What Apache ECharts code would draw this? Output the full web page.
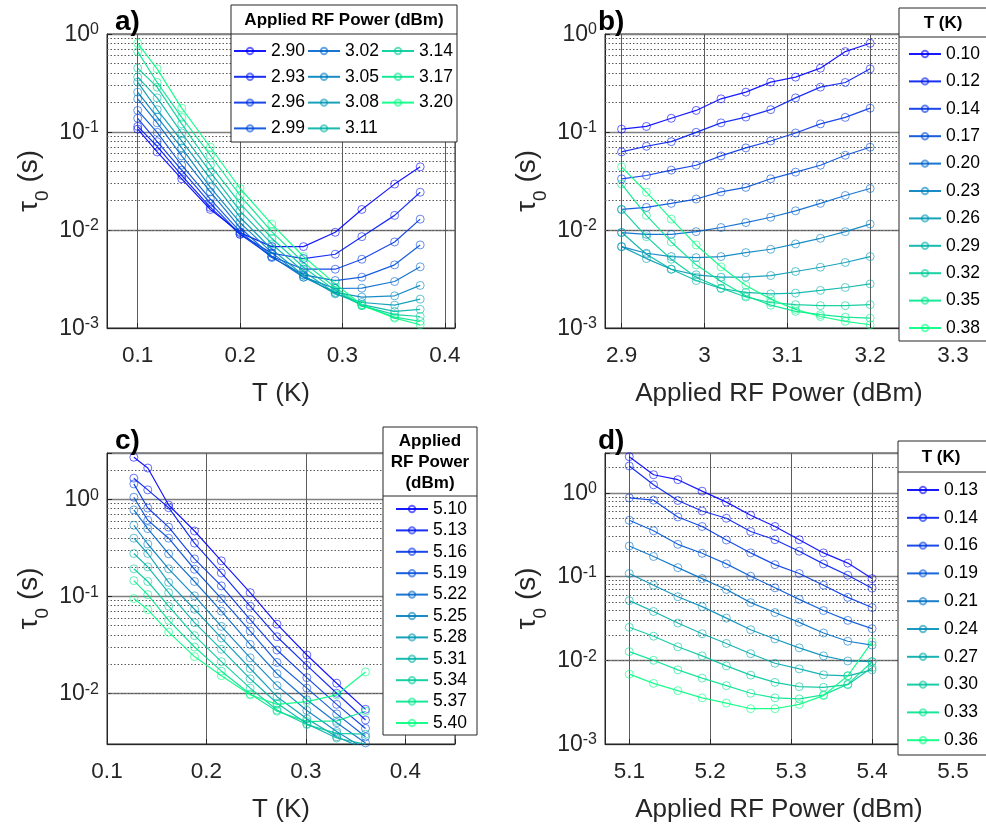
<!DOCTYPE html>
<html><head><meta charset="utf-8">
<script src="https://cdn.jsdelivr.net/npm/echarts@6/dist/echarts.min.js"></script>
<style>html,body{margin:0;padding:0;background:#fff}#c{width:986px;height:824px}</style>
</head><body><div id="c"></div>
<script>
// ---------- data: panels a & b ----------
const powersAB = [2.90, 2.93, 2.96, 2.99, 3.02, 3.05, 3.08, 3.11, 3.14, 3.17, 3.20];
const powerLabelsAB = ['2.90','2.93','2.96','2.99','3.02','3.05','3.08','3.11','3.14','3.17','3.20'];
const tempsAB = [0.100, 0.119, 0.143, 0.171, 0.200, 0.231, 0.262, 0.293, 0.319, 0.351, 0.376];
const tempLabelsAB = ['0.10','0.12','0.14','0.17','0.20','0.23','0.26','0.29','0.32','0.35','0.38'];
// tau0 (s) for each temperature, over powersAB
const tauAB_T010 = [0.107, 0.114, 0.138, 0.166, 0.218, 0.255, 0.323, 0.363, 0.448, 0.661, 0.804];
const tauAB_T012 = [0.0626, 0.0715, 0.0797, 0.0992, 0.124, 0.142, 0.169, 0.223, 0.287, 0.320, 0.441];
const tauAB_T014 = [0.0333, 0.0360, 0.0408, 0.0458, 0.0570, 0.0688, 0.0810, 0.0977, 0.121, 0.141, 0.175];
const tauAB_T017 = [0.0162, 0.0170, 0.0187, 0.0207, 0.0245, 0.0272, 0.0333, 0.0389, 0.0458, 0.0579, 0.0699];
const tauAB_T020 = [0.00940, 0.00904, 0.00904, 0.00962, 0.0106, 0.0119, 0.0135, 0.0157, 0.0187, 0.0225, 0.0265];
const tauAB_T023 = [0.00677, 0.00579, 0.00536, 0.00523, 0.00536, 0.00588, 0.00636, 0.00721, 0.00823, 0.00962, 0.0115];
const tauAB_T026 = [0.00677, 0.00511, 0.00398, 0.00349, 0.00330, 0.00330, 0.00343, 0.00377, 0.00417, 0.00466, 0.00536];
const tauAB_T029 = [0.00947, 0.00566, 0.00398, 0.00305, 0.00253, 0.00231, 0.00223, 0.00227, 0.00242, 0.00259, 0.00282];
const tauAB_T032 = [0.0162, 0.00855, 0.00503, 0.00330, 0.00255, 0.00207, 0.00182, 0.00173, 0.00169, 0.00169, 0.00173];
const tauAB_T035 = [0.0294, 0.0141, 0.00755, 0.00441, 0.00298, 0.00213, 0.00171, 0.00148, 0.00137, 0.00129, 0.00126];
const tauAB_T038 = [0.0441, 0.0243, 0.0129, 0.00704, 0.00421, 0.00272, 0.00197, 0.00155, 0.00131, 0.00117, 0.00108];
const rowsAB = [tauAB_T010, tauAB_T012, tauAB_T014, tauAB_T017, tauAB_T020, tauAB_T023, tauAB_T026, tauAB_T029, tauAB_T032, tauAB_T035, tauAB_T038];

// ---------- data: panels c & d ----------
const powersCD = [5.10, 5.13, 5.16, 5.19, 5.22, 5.25, 5.28, 5.31, 5.34, 5.37, 5.40];
const powerLabelsCD = ['5.10','5.13','5.16','5.19','5.22','5.25','5.28','5.31','5.34','5.37','5.40'];
const tempsCD = [0.127, 0.141, 0.162, 0.188, 0.215, 0.244, 0.271, 0.301, 0.331, 0.360];
const tempLabelsCD = ['0.13','0.14','0.16','0.19','0.21','0.24','0.27','0.30','0.33','0.36'];
const tauCD_T013 = [2.71, 1.65, 1.44, 1.05, 0.776, 0.540, 0.397, 0.276, 0.192, 0.145, 0.0947];
const tauCD_T014 = [2.10, 1.25, 0.812, 0.608, 0.498, 0.346, 0.276, 0.201, 0.142, 0.104, 0.0728];
const tauCD_T016 = [0.873, 0.819, 0.516, 0.397, 0.274, 0.192, 0.139, 0.109, 0.0790, 0.0565, 0.0427];
const tauCD_T019 = [0.471, 0.353, 0.243, 0.190, 0.142, 0.101, 0.0735, 0.0535, 0.0393, 0.0300, 0.0239];
const tauCD_T021 = [0.232, 0.174, 0.128, 0.0947, 0.0702, 0.0489, 0.0372, 0.0284, 0.0212, 0.0169, 0.0152];
const tauCD_T024 = [0.109, 0.0790, 0.0575, 0.0438, 0.0319, 0.0232, 0.0180, 0.0141, 0.0113, 0.00982, 0.00965];
const tauCD_T027 = [0.0516, 0.0383, 0.0279, 0.0208, 0.0159, 0.0120, 0.00922, 0.00790, 0.00671, 0.00653, 0.00769];
const tauCD_T030 = [0.0248, 0.0194, 0.0145, 0.0113, 0.00857, 0.00665, 0.00545, 0.00484, 0.00476, 0.00511, 0.00819];
const tauCD_T033 = [0.0127, 0.0100, 0.00769, 0.00613, 0.00498, 0.00404, 0.00356, 0.00346, 0.00386, 0.00520, 0.00962];
const tauCD_T036 = [0.00683, 0.00530, 0.00434, 0.00356, 0.00308, 0.00264, 0.00264, 0.00297, 0.00379, 0.00653, 0.0166];
const rowsCD = [tauCD_T013, tauCD_T014, tauCD_T016, tauCD_T019, tauCD_T021, tauCD_T024, tauCD_T027, tauCD_T030, tauCD_T033, tauCD_T036];

// ---------- styling ----------
const FONT = '"Liberation Sans", Arial, Helvetica, sans-serif';
const INK = '#262626';
function winter(t, a) { return 'rgba(0,' + Math.round(255 * t) + ',' + Math.round(255 * (1 - 0.5 * t)) + ',' + a + ')'; }

function mk(name, k, data, t) {
  return {
    type: 'line', name: name, xAxisIndex: k, yAxisIndex: k, data: data,
    symbol: 'circle', symbolSize: 8, showSymbol: true, z: 2, clip: true,
    lineStyle: { color: winter(t, 0.9), width: 1.2 },
    itemStyle: { color: 'rgba(0,0,0,0)', borderColor: winter(t, 0.6), borderWidth: 1 },
    emphasis: { disabled: true }, animation: false
  };
}
const series = [];
powersAB.forEach((p, i) => series.push(mk('a|' + powerLabelsAB[i], 0, tempsAB.map((t, j) => [t, rowsAB[j][i]]), i / 10)));
tempLabelsAB.forEach((lab, j) => series.push(mk('b|' + lab, 1, powersAB.map((p, i) => [p, rowsAB[j][i]]), j / 10)));
powersCD.forEach((p, i) => series.push(mk('c|' + powerLabelsCD[i], 2, tempsCD.map((t, j) => [t, rowsCD[j][i]]), i / 10)));
tempLabelsCD.forEach((lab, j) => series.push(mk('d|' + lab, 3, powersCD.map((p, i) => [p, rowsCD[j][i]]), j / 9)));

const yRanges = [[0.001, 1], [0.001, 1], [0.003, 3], [0.001, 3]];
function minorVals(min, max) {
  const out = [];
  for (let e = -4; e <= 1; e++) for (let m = 2; m <= 9; m++) {
    const v = m * Math.pow(10, e);
    if (v > min * 1.0001 && v < max * 0.9999) out.push(v);
  }
  return out;
}
yRanges.forEach((r, k) => series.push({
  type: 'line', name: 'minor' + k, xAxisIndex: k, yAxisIndex: k, data: [], z: 1, silent: true, animation: false,
  markLine: { silent: true, animation: false, z: 1, symbol: ['none', 'none'], label: { show: false },
    lineStyle: { color: '#5a5a5a', width: 1, type: [1.5, 2] },
    emphasis: { disabled: true },
    data: minorVals(r[0], r[1]).map(v => ({ yAxis: v })) }
}));

const gridPos = [[107, 34], [605, 34], [107, 453], [605, 453]];
const grids = gridPos.map(p => ({ left: p[0], top: p[1], width: 348, height: 294, show: true, borderColor: INK, borderWidth: 1, backgroundColor: 'rgba(0,0,0,0)' }));

function xLabel(v) { const r = Math.round(v * 10); if (Math.abs(v * 10 - r) > 1e-6) return ''; return String(+(r / 10).toFixed(1)); }
function yLabel(v) { const e = Math.log10(v); const r = Math.round(e); if (Math.abs(e - r) > 1e-6) return ''; return '{b|10}{s|' + r + '}'; }

const xSpecs = [
  { min: 0.07, max: 0.41, split: 3, name: 'T (K)' },
  { min: 2.88, max: 3.30, split: 4, name: 'Applied RF Power (dBm)' },
  { min: 0.10, max: 0.45, split: 3, name: 'T (K)' },
  { min: 5.07, max: 5.50, split: 4, name: 'Applied RF Power (dBm)' }
];
const xAxes = xSpecs.map((s, k) => ({
  type: 'value', gridIndex: k, min: s.min, max: s.max, splitNumber: s.split, minInterval: 0.1, maxInterval: 0.1,
  name: s.name, nameLocation: 'middle', nameGap: 53,
  nameTextStyle: { fontFamily: FONT, fontSize: 26, color: INK },
  axisLine: { show: true, onZero: false, lineStyle: { color: INK, width: 1 } },
  axisTick: { show: true, inside: true, length: 5, lineStyle: { color: INK } },
  axisLabel: { formatter: xLabel, fontFamily: FONT, fontSize: 22.5, color: INK, margin: 16, showMinLabel: true, showMaxLabel: true },
  splitLine: { show: true, lineStyle: { color: '#5c5c5c', width: 1 } }
}));
const yAxes = yRanges.map((r, k) => ({
  type: 'log', logBase: 10, gridIndex: k, min: r[0], max: r[1],
  name: '{t|τ}{sub|0}{t| (s)}', nameLocation: 'middle', nameGap: 63, nameRotate: 90,
  nameTextStyle: { fontFamily: FONT, fontSize: 28, color: INK,
    rich: { t: { fontFamily: FONT, fontSize: 28, color: INK, lineHeight: 30 },
            sub: { fontFamily: FONT, fontSize: 19, color: INK, lineHeight: 19, padding: [19, 0, 0, 0], verticalAlign: 'top' } } },
  axisLine: { show: true, onZero: false, lineStyle: { color: INK, width: 1 } },
  axisTick: { show: true, inside: true, length: 5, lineStyle: { color: INK } },
  axisLabel: { formatter: yLabel, margin: 8, color: INK,
    rich: { b: { fontFamily: FONT, fontSize: 23, color: INK, lineHeight: 24, verticalAlign: 'bottom' },
            s: { fontFamily: FONT, fontSize: 16, color: INK, lineHeight: 16, padding: [0, 0, 14, 0], verticalAlign: 'top' } } },
  splitLine: { show: true, lineStyle: { color: '#7f7f7f', width: 1.3 } },
  minorTick: { show: false }, minorSplitLine: { show: false }
}));

function legend(names, left, top, gap) {
  return { orient: 'vertical', left: left, top: top, padding: 0, itemGap: gap, itemWidth: 32, itemHeight: 8,
    selectedMode: false, z: 6, data: names, formatter: n => n.split('|')[1],
    textStyle: { fontFamily: FONT, fontSize: 17.5, color: '#000', lineHeight: 20 } };
}
const legends = [
  legend(powerLabelsAB.slice(0, 4).map(s => 'a|' + s), 233, 41, 5.8),
  legend(powerLabelsAB.slice(4, 8).map(s => 'a|' + s), 307, 41, 5.8),
  legend(powerLabelsAB.slice(8).map(s => 'a|' + s), 381, 41, 5.8),
  legend(tempLabelsAB.map(s => 'b|' + s), 908, 44, 7.4),
  legend(powerLabelsCD.map(s => 'c|' + s), 395, 499, 1.4),
  legend(tempLabelsCD.map(s => 'd|' + s), 906, 480, 7.8)
];

function box(x, y, w, h, sepY) {
  return [
    { type: 'rect', z: 3, shape: { x: x, y: y, width: w, height: h }, style: { fill: '#fff', stroke: INK, lineWidth: 1 } },
    { type: 'line', z: 3, shape: { x1: x, y1: sepY, x2: x + w, y2: sepY }, style: { stroke: INK, lineWidth: 1 } }
  ];
}
function label(txt, x, y, size, align, lh) {
  return { type: 'text', z: 7, x: x, y: y, style: { text: txt, fontFamily: FONT, fontWeight: 'bold', fontSize: size, fill: '#000', align: align, verticalAlign: 'middle', lineHeight: lh || size } };
}
const graphic = [].concat(
  box(231, 5, 226, 137, 34), box(899, 8, 100, 333, 37), box(383, 427, 94, 308, 496), box(898, 441, 100, 314, 472),
  [label('Applied RF Power (dBm)', 344, 20, 17, 'center'),
   label('T (K)', 943, 23, 17, 'center'),
   label('Applied\nRF Power\n(dBm)', 430, 462, 17, 'center', 21),
   label('T (K)', 941, 457, 17, 'center'),
   label('a)', 115, 22, 28, 'left'), label('b)', 598, 22, 28, 'left'),
   label('c)', 115, 441, 28, 'left'), label('d)', 598, 441, 28, 'left')]
);

const chart = echarts.init(document.getElementById('c'), null, { renderer: 'canvas' });
chart.setOption({
  animation: false, backgroundColor: '#fff',
  grid: grids, xAxis: xAxes, yAxis: yAxes, legend: legends, series: series, graphic: graphic
});
</script></body></html>
